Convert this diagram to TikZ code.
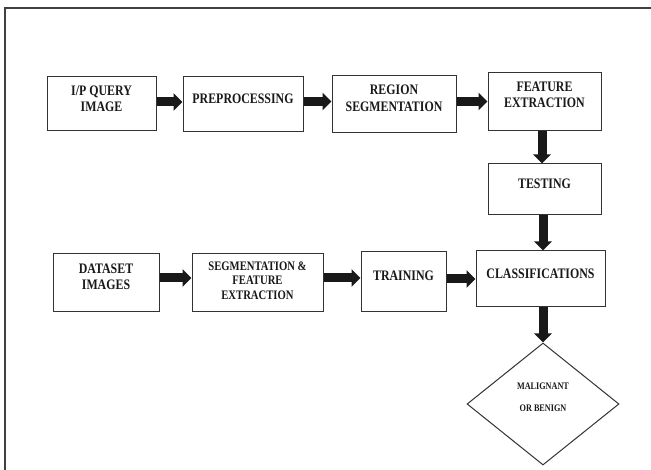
\documentclass[tikz,border=0pt]{standalone}
\usepackage{fontspec}
\setmainfont{Liberation Serif}
\usepackage{graphicx}
\usetikzlibrary{arrows.meta,shapes.geometric}

% squeezed bold label, lifted a little above the box centre
\newcommand{\boxtxt}[2][4pt]{\raisebox{#1}[\height][\depth]{\scalebox{0.82}[1]{\begin{tabular}{@{}c@{}}#2\end{tabular}}}}

\tikzset{
  stage/.style={draw=black!80, line width=1pt, fill=white, inner sep=0pt,
    text=black!90, font=\fontsize{14.5}{16.5}\selectfont\bfseries},
  flow/.style={draw=black!90, line width=9pt, -{Triangle[width=17pt,length=9pt]}},
}

\begin{document}
\begin{tikzpicture}[x=1pt,y=-1pt]
\useasboundingbox (0,0) rectangle (651,470);
\draw[line width=2.5pt, black!75] (5,470) -- (5,8) -- (651,8);

% query path
\node[stage, minimum width=109pt, minimum height=54pt] (query) at (101.5,104) {\boxtxt{I/P QUERY\\IMAGE}};
\node[stage, minimum width=120pt, minimum height=55pt] (prep) at (243,104.5) {\boxtxt{PREPROCESSING}};
\node[stage, minimum width=124pt, minimum height=57pt] (region) at (394,104.5) {\boxtxt[5pt]{REGION\\SEGMENTATION}};
\node[stage, minimum width=113pt, minimum height=58pt] (feat) at (544.5,102) {\boxtxt[6pt]{FEATURE\\EXTRACTION}};
\node[stage, minimum width=113pt, minimum height=51pt] (test) at (544.5,189.5) {\boxtxt{TESTING}};

% training path
\node[stage, minimum width=106pt, minimum height=58pt] (data) at (106,283) {\boxtxt[5pt]{DATASET\\IMAGES}};
\node[stage, minimum width=131pt, minimum height=58pt, font=\fontsize{13}{14.5}\selectfont\bfseries] (segfeat) at (257.5,283) {\boxtxt[1pt]{SEGMENTATION \&\\FEATURE\\EXTRACTION}};
\node[stage, minimum width=85pt, minimum height=60pt] (train) at (403.5,282) {\boxtxt[5pt]{TRAINING}};
\node[stage, minimum width=129pt, minimum height=56pt] (class) at (540.5,279) {\boxtxt{CLASSIFICATIONS}};

\node[stage, diamond, minimum width=152pt, minimum height=122pt, font=\fontsize{10}{12}\selectfont\bfseries] (result) at (543,404) {\boxtxt[6pt]{MALIGNANT\\[10pt]OR BENIGN}};

\draw[flow] ([yshift=2pt]query.east) -- ([yshift=2pt]query.east -| prep.west);
\draw[flow] ([yshift=3pt]prep.east) -- ([yshift=3pt]prep.east -| region.west);
\draw[flow] ([yshift=3pt]region.east) -- ([yshift=3pt]region.east -| feat.west);
\draw[flow] (feat.south -| 542,0) -- (test.north -| 542,0);
\draw[flow] (test.south -| 543,0) -- (class.north -| 543,0);
\draw[flow] ([yshift=5pt]data.east) -- ([yshift=5pt]data.east -| segfeat.west);
\draw[flow] ([yshift=5pt]segfeat.east) -- ([yshift=5pt]segfeat.east -| train.west);
\draw[flow] ([yshift=3pt]train.east) -- ([yshift=3pt]train.east -| class.west);
\draw[flow] (class.south -| 543,0) -- (result.north);
\end{tikzpicture}
\end{document}
